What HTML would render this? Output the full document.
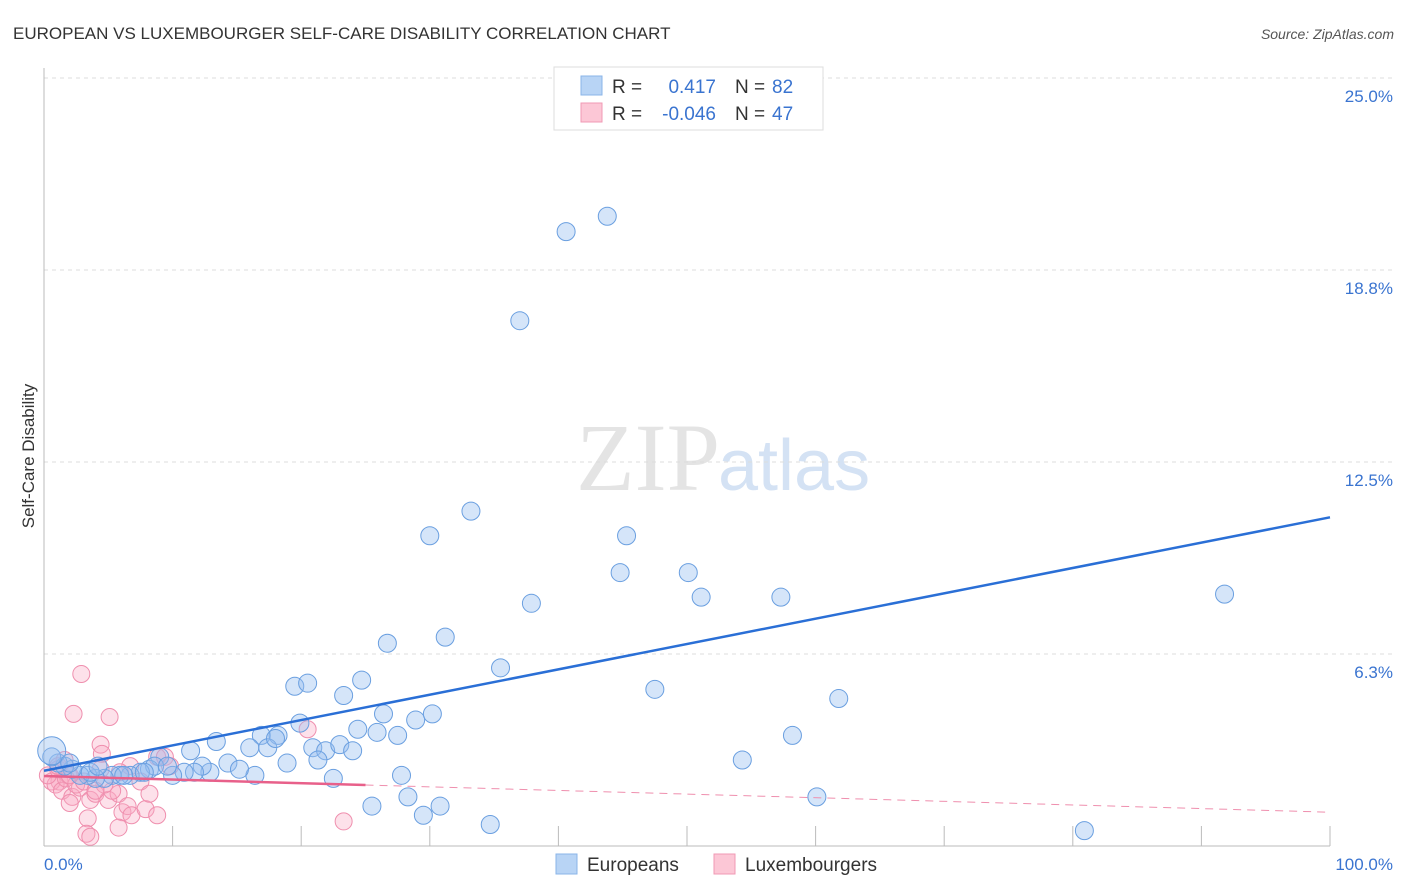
<!DOCTYPE html>
<html><head><meta charset="utf-8">
<style>
body{margin:0;background:#fff;font-family:"Liberation Sans",sans-serif;}
svg{display:block}
</style></head>
<body>
<svg id="chart" width="1406" height="892" xmlns="http://www.w3.org/2000/svg">
<text x="13" y="39" font-size="17" fill="#333">EUROPEAN VS LUXEMBOURGER SELF-CARE DISABILITY CORRELATION CHART</text>
<text x="1394" y="39" font-size="14" fill="#555" font-style="italic" text-anchor="end">Source: ZipAtlas.com</text>
<text x="720" y="490" font-size="96" fill="#e4e4e4" text-anchor="end" font-family="Liberation Serif,serif">ZIP</text>
<text x="718" y="490" font-size="72" fill="#d4e2f4">atlas</text>
<text transform="translate(34,456) rotate(-90)" font-size="17" fill="#333" text-anchor="middle">Self-Care Disability</text>
<g id="grid"></g>
<g id="axes"></g>
<g id="pts"></g>
<g id="lines"></g>
<g>
<rect x="554" y="67" width="269" height="63" fill="#fff" stroke="#ddd"/>
<rect x="581" y="76" width="21" height="19" fill="#b8d4f5" stroke="#8ab4e8"/>
<rect x="581" y="103" width="21" height="19" fill="#fcc7d6" stroke="#f09ab4"/>
<text x="612" y="93" font-size="19" fill="#333">R =</text>
<text x="716" y="93" font-size="19" fill="#3a74d0" text-anchor="end">0.417</text>
<text x="735" y="93" font-size="19" fill="#333">N =</text>
<text x="772" y="93" font-size="19" fill="#3a74d0">82</text>
<text x="612" y="120" font-size="19" fill="#333">R =</text>
<text x="716" y="120" font-size="19" fill="#3a74d0" text-anchor="end">-0.046</text>
<text x="735" y="120" font-size="19" fill="#333">N =</text>
<text x="772" y="120" font-size="19" fill="#3a74d0">47</text>
</g>
<g>
<rect x="556" y="854" width="21" height="20" fill="#b8d4f5" stroke="#8ab4e8"/>
<text x="587" y="871" font-size="19" fill="#333">Europeans</text>
<rect x="714" y="854" width="21" height="20" fill="#fcc7d6" stroke="#f09ab4"/>
<text x="745" y="871" font-size="19" fill="#333">Luxembourgers</text>
</g>
</svg>
<script>
const yTicks=[6.25,12.5,18.75,25];
const yTickLabels=["6.3%","12.5%","18.8%","25.0%"];
const xTickLabels=["0.0%","100.0%"];
const euroX=[40.6,43.8,37,33.2,30,45.3,44.8,50.1,37.9,51.1,57.3,91.8,26.7,31.2,35.5,47.5,61.8,19.5,20.5,23.3,24.7,19.9,26.4,28.9,30.2,24.4,25.9,27.5,13.4,16.9,18.2,16,17.4,18,20.9,21.9,23.0,24.0,11.4,9,18.9,21.3,54.3,58.2,60.1,80.9,25.5,28.3,29.5,30.8,34.7,27.8,22.5,16.4,14.3,15.2,12.9,12.3,11.7,10.9,10,8.2,8.6,7.5,6.7,5.9,5.3,4.7,4.0,3.4,2.8,2.2,1.6,1.1,0.6,0.6,2.0,3.6,4.2,6.2,7.8,9.6];
const euroY=[20,20.5,17.1,10.9,10.1,10.1,8.9,8.9,7.9,8.1,8.1,8.2,6.6,6.8,5.8,5.1,4.8,5.2,5.3,4.9,5.4,4,4.3,4.1,4.3,3.8,3.7,3.6,3.4,3.6,3.6,3.2,3.2,3.5,3.2,3.1,3.3,3.1,3.1,2.9,2.7,2.8,2.8,3.6,1.6,0.5,1.3,1.6,1.0,1.3,0.7,2.3,2.2,2.3,2.7,2.5,2.4,2.6,2.4,2.4,2.3,2.5,2.6,2.4,2.3,2.3,2.3,2.2,2.2,2.3,2.3,2.5,2.6,2.7,2.9,3.1,2.7,2.4,2.6,2.3,2.4,2.6];
const luxX=[2.9,2.3,5.1,4.4,4.5,8.8,9.4,9.8,20.5,6.7,5.9,1.2,1.9,0.6,0.9,1.4,2.2,2.0,2.8,3.6,4.0,5.0,5.8,6.1,6.5,6.8,7.9,8.8,5.3,4.7,3.4,5.8,3.3,3.6,23.3,0.3,1.1,1.7,2.5,3.1,4.0,4.4,7.5,8.2,1.1,1.6,2.0];
const luxY=[5.6,4.3,4.2,3.3,3.0,2.9,2.9,2.6,3.8,2.6,2.4,2.1,2.3,2.1,2.0,1.8,1.6,1.4,1.9,1.5,1.7,1.5,1.7,1.1,1.3,1.0,1.2,1.0,1.8,2.0,0.9,0.6,0.4,0.3,0.8,2.3,2.5,2.2,2.0,2.1,1.8,2.5,2.1,1.7,2.6,2.8,2.3];
const euroLine=[2.45,10.7];
const luxLine=[2.28,1.1];
const X0=44,X1=1330,Y0=846,YS=30.72;
const xs=v=>X0+(X1-X0)*v/100, ys=v=>Y0-v*YS;
const NS="http://www.w3.org/2000/svg";
function mk(t,a,p){const e=document.createElementNS(NS,t);for(const k in a)e.setAttribute(k,a[k]);p.appendChild(e);return e;}
const grid=document.getElementById('grid'),axes=document.getElementById('axes'),pts=document.getElementById('pts'),lines=document.getElementById('lines');
yTicks.forEach((t,i)=>{
  const l=mk('line',{x1:X0,x2:1394,y1:ys(t),y2:ys(t),stroke:'#ddd','stroke-dasharray':'4,4'},grid);
  
  
  const tx=mk('text',{x:1393,y:ys(t)+24,'font-size':17,fill:'#3a74d0','text-anchor':'end'},grid);
  tx.textContent=yTickLabels[i];
  
  
});
mk('line',{x1:X0,x2:X0,y1:68,y2:Y0,stroke:'#bbb'},axes);
mk('line',{x1:X0,x2:X1,y1:Y0,y2:Y0,stroke:'#bbb'},axes);
for(let i=1;i<=10;i++){mk('line',{x1:xs(i*10),x2:xs(i*10),y1:826,y2:Y0,stroke:'#bbb'},axes);}
[[X0,'start'],[1393,'end']].forEach((p,i)=>{
  const t=mk('text',{x:p[0],y:870,'font-size':17,fill:'#3a74d0','text-anchor':p[1]},axes);
  t.textContent=xTickLabels[i];
  
  
});
luxX.forEach((v,i)=>{
  const c=mk('circle',{cx:xs(v),cy:ys(luxY[i]),r:8.5,fill:'rgba(248,170,195,0.35)',stroke:'#ef8fae','stroke-width':1},pts);
  
  
});
euroX.forEach((v,i)=>{
  const c=mk('circle',{cx:xs(v),cy:ys(euroY[i]),r:i==75?14:9,fill:'rgba(150,190,240,0.4)',stroke:'#6a9fe0','stroke-width':1},pts);
  
  
});
const bl=mk('line',{x1:xs(0),y1:ys(euroLine[0]),x2:xs(100),y2:ys(euroLine[1]),stroke:'#2a6fd6','stroke-width':2.5},lines);


const py=v=>luxLine[0]+(luxLine[1]-luxLine[0])*v/100;
const pl=mk('line',{x1:xs(0),y1:ys(py(0)),x2:xs(25),y2:ys(py(25)),stroke:'#e8608a','stroke-width':2.5},lines);


const pd=mk('line',{x1:xs(25),y1:ys(py(25)),x2:xs(100),y2:ys(py(100)),stroke:'#ef8fae','stroke-width':1,'stroke-dasharray':'8,6'},lines);


</script>
</body></html>
